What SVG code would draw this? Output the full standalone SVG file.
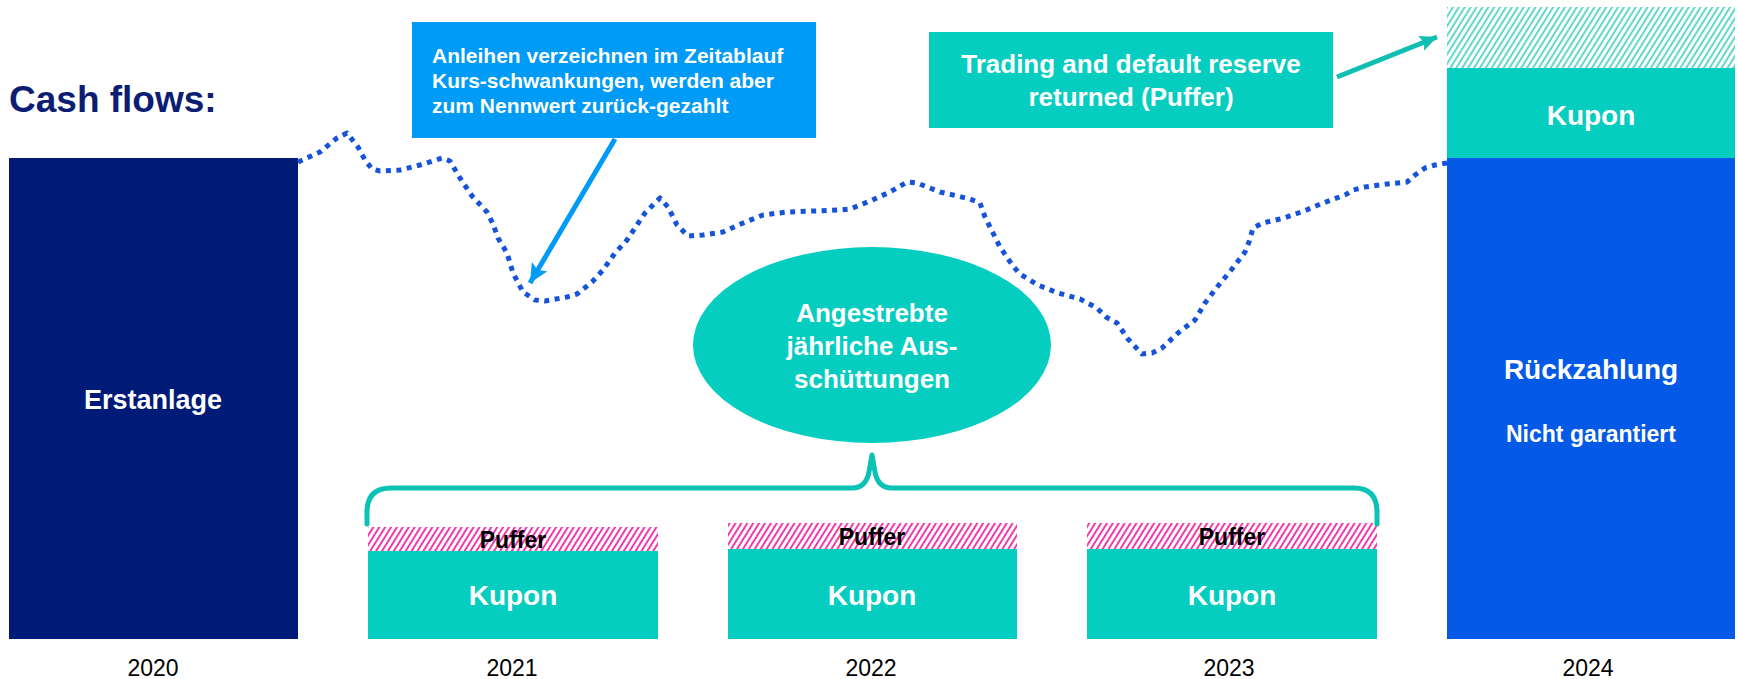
<svg xmlns="http://www.w3.org/2000/svg" width="1737" height="679" viewBox="0 0 1737 679">
<defs>
<style>
.wb{font-family:"Liberation Sans",Arial,sans-serif;font-weight:bold;fill:#ffffff;text-anchor:middle}
.yr{font-family:"Liberation Sans",Arial,sans-serif;font-size:23px;fill:#000000;text-anchor:middle}
.pf{font-family:"Liberation Sans",Arial,sans-serif;font-weight:bold;font-size:23px;fill:#000000;text-anchor:middle}
.teal{fill:#05CDC0}
</style>
<pattern id="hatchPink" patternUnits="userSpaceOnUse" width="5" height="5" patternTransform="rotate(32)">
<rect width="5" height="5" fill="#ffffff"/>
<line x1="1" y1="0" x2="1" y2="5" stroke="#F0189C" stroke-width="1.7"/>
</pattern>
<pattern id="hatchTeal" patternUnits="userSpaceOnUse" width="5" height="5" patternTransform="rotate(32)">
<rect width="5" height="5" fill="#ffffff"/>
<line x1="1" y1="0" x2="1" y2="5" stroke="#2ECABD" stroke-width="1.5"/>
</pattern>
<marker id="headBlue" markerUnits="userSpaceOnUse" markerWidth="20" markerHeight="18" refX="19" refY="9" orient="auto">
<path d="M0,0 L19,9 L0,18 L4,9 Z" fill="#009AF7"/>
</marker>
<marker id="headTeal" markerUnits="userSpaceOnUse" markerWidth="18" markerHeight="16" refX="17" refY="8" orient="auto">
<path d="M0,0 L17,8 L0,16 L3,8 Z" fill="#10BFB1"/>
</marker>
</defs>
<rect width="1737" height="679" fill="#ffffff"/>

<g id="title">
<text x="9" y="112" font-family="'Liberation Sans',Arial,sans-serif" font-weight="bold" font-size="37" fill="#0B1E73">Cash flows:</text>
</g>

<g id="erstanlage">
<rect x="9" y="158" width="289" height="481" fill="#001A78"/>
<text class="wb" x="153" y="409" font-size="27">Erstanlage</text>
<text class="yr" x="153" y="676">2020</text>
</g>

<g id="callout-kurs">
<rect x="412" y="22" width="404" height="116" fill="#009AF7"/>
<text x="432" y="63" font-family="'Liberation Sans',Arial,sans-serif" font-weight="bold" font-size="21" fill="#ffffff">Anleihen verzeichnen im Zeitablauf</text>
<text x="432" y="88" font-family="'Liberation Sans',Arial,sans-serif" font-weight="bold" font-size="21" fill="#ffffff">Kurs-schwankungen, werden aber</text>
<text x="432" y="113" font-family="'Liberation Sans',Arial,sans-serif" font-weight="bold" font-size="21" fill="#ffffff">zum Nennwert zurück-gezahlt</text>
</g>

<g id="callout-reserve">
<rect x="929" y="32" width="404" height="96" class="teal"/>
<text class="wb" x="1131" y="73" font-size="26">Trading and default reserve</text>
<text class="wb" x="1131" y="106" font-size="26">returned (Puffer)</text>
</g>

<g id="ausschuettungen">
<ellipse cx="872" cy="345" rx="179" ry="98" class="teal"/>
<text class="wb" x="872" y="322" font-size="26">Angestrebte</text>
<text class="wb" x="872" y="355" font-size="26">jährliche Aus-</text>
<text class="wb" x="872" y="388" font-size="26">schüttungen</text>
</g>

<g id="year2021">
<rect x="368" y="527" width="290" height="24" fill="url(#hatchPink)"/>
<rect x="368" y="551" width="290" height="88" class="teal"/>
<text class="pf" x="513" y="548">Puffer</text>
<text class="wb" x="513" y="605" font-size="28">Kupon</text>
<text class="yr" x="512" y="676">2021</text>
</g>

<g id="year2022">
<rect x="728" y="523" width="289" height="26" fill="url(#hatchPink)"/>
<rect x="728" y="549" width="289" height="90" class="teal"/>
<text class="pf" x="872" y="545">Puffer</text>
<text class="wb" x="872" y="605" font-size="28">Kupon</text>
<text class="yr" x="871" y="676">2022</text>
</g>

<g id="year2023">
<rect x="1087" y="523" width="290" height="26" fill="url(#hatchPink)"/>
<rect x="1087" y="549" width="290" height="90" class="teal"/>
<text class="pf" x="1232" y="545">Puffer</text>
<text class="wb" x="1232" y="605" font-size="28">Kupon</text>
<text class="yr" x="1229" y="676">2023</text>
</g>

<g id="year2024">
<rect x="1447" y="7" width="288" height="61" fill="url(#hatchTeal)"/>
<rect x="1447" y="68" width="288" height="90" class="teal"/>
<rect x="1447" y="158" width="288" height="481" fill="#045AE6"/>
<text class="wb" x="1591" y="125" font-size="28">Kupon</text>
<text class="wb" x="1591" y="379" font-size="28">Rückzahlung</text>
<text class="wb" x="1591" y="442" font-size="23">Nicht garantiert</text>
<text class="yr" x="1588" y="676">2024</text>
</g>

<g id="connectors" fill="none">
<path d="M298,162 L320,152 L337,138 L347,133 L358,147 L365,160 L372,169 L380,171 L400,170 L420,165 L442,158 L450,161 L460,178 L472,196 L487,212 L493,224 L498,238 L507,253 L513,273 L523,292 L535,300 L545,301 L567,297 L577,294 L592,282 L603,270 L615,253 L627,240 L635,228 L645,213 L660,198 L668,207 L677,225 L688,236 L703,235 L723,232 L743,223 L763,215 L787,212 L840,210 L850,209 L870,201 L890,192 L907,182 L917,183 L940,192 L970,199 L980,203 L985,217 L993,233 L1000,247 L1013,266 L1020,274 L1038,285 L1058,293 L1080,299 L1097,308 L1106,317 L1117,323 L1128,339 L1142,354 L1152,353 L1162,348 L1178,333 L1195,320 L1205,303 L1218,286 L1232,269 L1245,252 L1249,242 L1253,228 L1263,223 L1284,218 L1304,211 L1323,203 L1345,195 L1353,190 L1365,187 L1387,184 L1407,182 L1415,175 L1425,168 L1435,165 L1447,163" stroke="#1653D8" stroke-width="5" stroke-dasharray="5 5.5" stroke-linejoin="round"/>
<line x1="615" y1="139" x2="530" y2="283" stroke="#009AF7" stroke-width="5" marker-end="url(#headBlue)"/>
<line x1="1337" y1="77" x2="1437" y2="37" stroke="#10BFB1" stroke-width="5" marker-end="url(#headTeal)"/>
<path d="M367,524 L367,512 Q367,488 391,488 L852,488 Q866,488 869,472 L872,455 L875,472 Q878,488 892,488 L1354,488 Q1377,488 1377,512 L1377,524" stroke="#0BC2B4" stroke-width="5" stroke-linecap="round" stroke-linejoin="round"/>
</g>
</svg>
